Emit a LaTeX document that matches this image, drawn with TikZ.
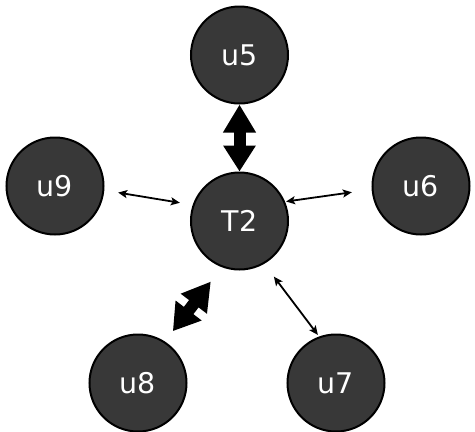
\documentclass[tikz,border=0pt]{standalone}
\usepackage{fontspec}
\setmainfont{DejaVu Sans}
\usetikzlibrary{arrows.meta}
\definecolor{nodefill}{HTML}{383838}
\begin{document}
\begin{tikzpicture}[x=1pt,y=-1pt,
  peer/.style={circle, draw=black, line width=2pt, fill=nodefill,
    minimum size=97pt, inner sep=0pt, text=white,
    font=\fontsize{28.5}{30}\selectfont},
  thinlink/.style={line width=1.8pt,
    {Stealth[length=9pt,width=8pt,inset=2pt]}-{Stealth[length=9pt,width=8pt,inset=2pt]}},
  thicklink/.style={line width=12pt,
    {Triangle[length=28pt,width=31pt]}-{Triangle[length=26pt,width=31pt]}}
]
\useasboundingbox (0,0) rectangle (475,432);

\node[peer] (T2) at (239.5,221) {T2};
\node[peer] (u5) at (239.5,55) {u5};
\node[peer] (u9) at (55,186) {u9};
\node[peer] (u6) at (421,186) {u6};
\node[peer] (u8) at (138,383) {u8};
\node[peer] (u7) at (336,383) {u7};

% heavy links
\draw[thicklink] (u5.south) -- (T2.north);
\draw[thicklink, shorten <=18pt, shorten >=13pt] (T2.-111) -- (u8.57);

% light links
\draw[thinlink, shorten <=14pt, shorten >=13pt] (u9.-5) -- (T2.161);
\draw[thinlink, shorten <=1pt, shorten >=20pt] (T2.23) -- (u6.184);
\draw[thinlink, shorten <=16pt, shorten >=2pt] (T2.-60) -- (u7.110);
\end{tikzpicture}
\end{document}
